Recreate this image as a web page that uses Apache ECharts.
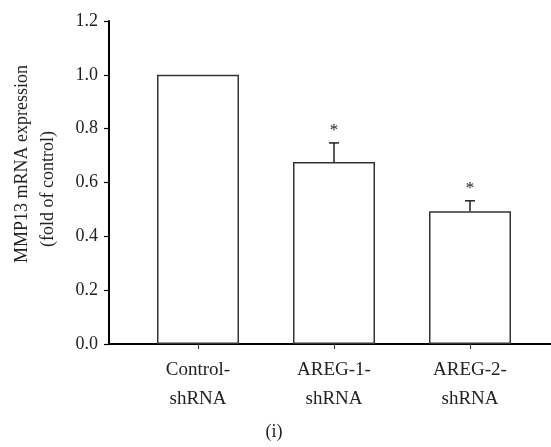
<!DOCTYPE html>
<html>
<head>
<meta charset="utf-8">
<script src="https://cdn.jsdelivr.net/npm/echarts@6/dist/echarts.min.js"></script>
<style>
html,body{margin:0;padding:0;background:#fff;}
#main{width:551px;height:447px;}
</style>
</head>
<body>
<div id="main"></div>
<script>
var categories = ['Control-\nshRNA', 'AREG-1-\nshRNA', 'AREG-2-\nshRNA'];
var values = [1.0, 0.676, 0.493];
var errors = [0, 0.071, 0.039];
var marks = ['', '*', '*'];
var yTicks = [0, 0.2, 0.4, 0.6, 0.8, 1.0, 1.2];

var FONT = '"Liberation Serif", "DejaVu Serif", serif';
var chart = echarts.init(document.getElementById('main'), null, {renderer: 'canvas'});

var errData = values.map(function (v, i) { return [i, v, errors[i], marks[i]]; });

chart.setOption({
  animation: false,
  backgroundColor: '#fff',
  grid: [
    {left: 109, right: 0, top: 21, bottom: 103},
    {left: 130, right: 13, top: 21, bottom: 103}
  ],
  xAxis: [
    {
      gridIndex: 0, type: 'value', min: 0, max: 1,
      axisLine: {show: true, onZero: false, lineStyle: {color: '#000', width: 2}},
      axisTick: {show: false}, axisLabel: {show: false}, splitLine: {show: false}
    },
    {
      gridIndex: 1, type: 'category', data: categories,
      axisLine: {show: false},
      axisTick: {show: true, alignWithLabel: true, length: 5, inside: false, lineStyle: {color: '#444', width: 1.2}},
      axisLabel: {
        margin: 12, color: '#222', fontFamily: FONT, fontSize: 19, lineHeight: 29
      },
      splitLine: {show: false}
    }
  ],
  yAxis: [
    {
      gridIndex: 0, type: 'value', min: yTicks[0], max: yTicks[yTicks.length - 1], interval: 0.2,
      axisLine: {show: true, lineStyle: {color: '#000', width: 2}},
      axisTick: {show: true, length: 5, lineStyle: {color: '#000', width: 1.2}},
      axisLabel: {
        margin: 11, color: '#222', fontFamily: FONT, fontSize: 18,
        formatter: function (v) { return v.toFixed(1); }
      },
      splitLine: {show: false}
    },
    {
      gridIndex: 1, type: 'value', min: yTicks[0], max: yTicks[yTicks.length - 1], interval: 0.2,
      show: false, splitLine: {show: false}
    }
  ],
  series: [
    {
      type: 'bar', xAxisIndex: 1, yAxisIndex: 1, data: values, barWidth: 82,
      itemStyle: {color: '#fff', borderColor: '#333', borderWidth: 1.5}
    },
    {
      type: 'custom', xAxisIndex: 1, yAxisIndex: 1, data: errData, z: 5,
      renderItem: function (params, api) {
        var i = api.value(0), v = api.value(1), e = api.value(2), m = errData[params.dataIndex][3];
        var children = [];
        var base = api.coord([i, v]);
        var top = api.coord([i, v + e]);
        if (e > 0) {
          children.push({type: 'line', shape: {x1: base[0], y1: base[1], x2: top[0], y2: top[1]}, style: {stroke: '#222', lineWidth: 1.5}});
          children.push({type: 'line', shape: {x1: top[0] - 5, y1: top[1], x2: top[0] + 5, y2: top[1]}, style: {stroke: '#222', lineWidth: 1.5}});
        }
        if (m) {
          children.push({type: 'text', style: {text: m, x: top[0], y: top[1] - 4, align: 'center', verticalAlign: 'bottom', font: '17px ' + FONT, fill: '#222'}});
        }
        return {type: 'group', children: children};
      }
    }
  ],
  graphic: [
    {type: 'text', rotation: Math.PI / 2, x: 22, y: 164, style: {text: 'MMP13 mRNA expression', font: '18px ' + FONT, fill: '#222', align: 'center', verticalAlign: 'middle'}},
    {type: 'text', rotation: Math.PI / 2, x: 48, y: 189, style: {text: '(fold of control)', font: '18px ' + FONT, fill: '#222', align: 'center', verticalAlign: 'middle'}},
    {type: 'text', x: 274, y: 432, style: {text: '(i)', font: '18px ' + FONT, fill: '#222', align: 'center', verticalAlign: 'middle'}}
  ]
});
</script>
</body>
</html>
